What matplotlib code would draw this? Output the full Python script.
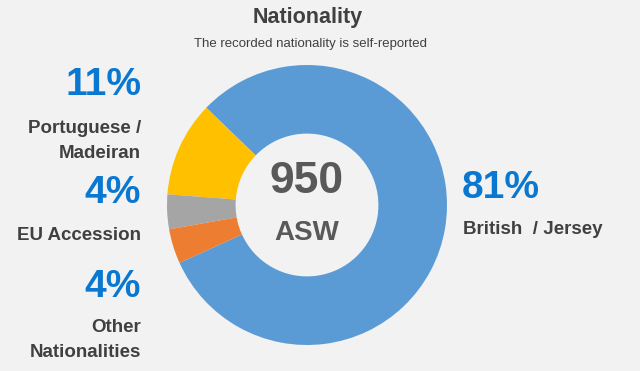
import matplotlib.pyplot as plt

# dados do gráfico
categorias = ['British / Jersey', 'Portuguese /\nMadeiran', 'EU Accession', 'Other\nNationalities']
valores = [81, 11, 4, 4]
cores = ['#5B9BD5', '#FFC000', '#A5A5A5', '#ED7D31']
total = 950

plt.rcParams['font.family'] = ['Liberation Sans', 'DejaVu Sans']

fundo = '#F2F2F2'
azul_txt = '#0A78D0'
cinza_txt = '#404040'

fig = plt.figure(figsize=(6.4, 3.71), dpi=100, facecolor=fundo)

# eixo do donut: centro (307, 205) px, raio 140 px
W, H = 640, 371
cx, cy, r = 307, 205, 140
ax = fig.add_axes([(cx - r) / W, (H - cy - r) / H, 2 * r / W, 2 * r / H])
ax.set_facecolor(fundo)
ax.pie(valores, colors=cores, startangle=204.4, counterclock=True,
       radius=1, wedgeprops=dict(width=0.49, edgecolor='none'))
ax.set_xlim(-1, 1)
ax.set_ylim(-1, 1)
ax.set_aspect('equal')
ax.axis('off')

ax.text(0, 0.17, str(total), ha='center', va='center', fontsize=32,
        fontweight='bold', color='#595959')
ax.text(0, -0.2, 'ASW', ha='center', va='center', fontsize=20,
        fontweight='bold', color='#595959')

def px(x, y):
    return x / W, 1 - y / H

# título
fig.text(*px(308, 17), 'Nationality', ha='center', va='center',
         fontsize=15.5, fontweight='bold', color='#404040')
fig.text(*px(310, 44), 'The recorded nationality is self-reported',
         ha='center', va='center', fontsize=9.5, color='#404040')

# rótulos à esquerda
esquerda = [(85, 141, 1), (193, 235, 2), (287, 340, 3)]
for y_pct, y_lab, i in esquerda:
    fig.text(*px(141, y_pct), f'{valores[i]}%', ha='right', va='center',
             fontsize=28, fontweight='bold', color=azul_txt)
    fig.text(*px(141, y_lab), categorias[i], ha='right', va='center',
             fontsize=13.5, fontweight='bold', color=cinza_txt,
             linespacing=1.6)

# rótulo à direita
fig.text(*px(462, 188), f'{valores[0]}%', ha='left', va='center',
         fontsize=28, fontweight='bold', color=azul_txt)
fig.text(*px(463, 230), 'British  / Jersey', ha='left', va='center',
         fontsize=13.5, fontweight='bold', color=cinza_txt)

fig.savefig('out.png', dpi=100, facecolor=fundo)
